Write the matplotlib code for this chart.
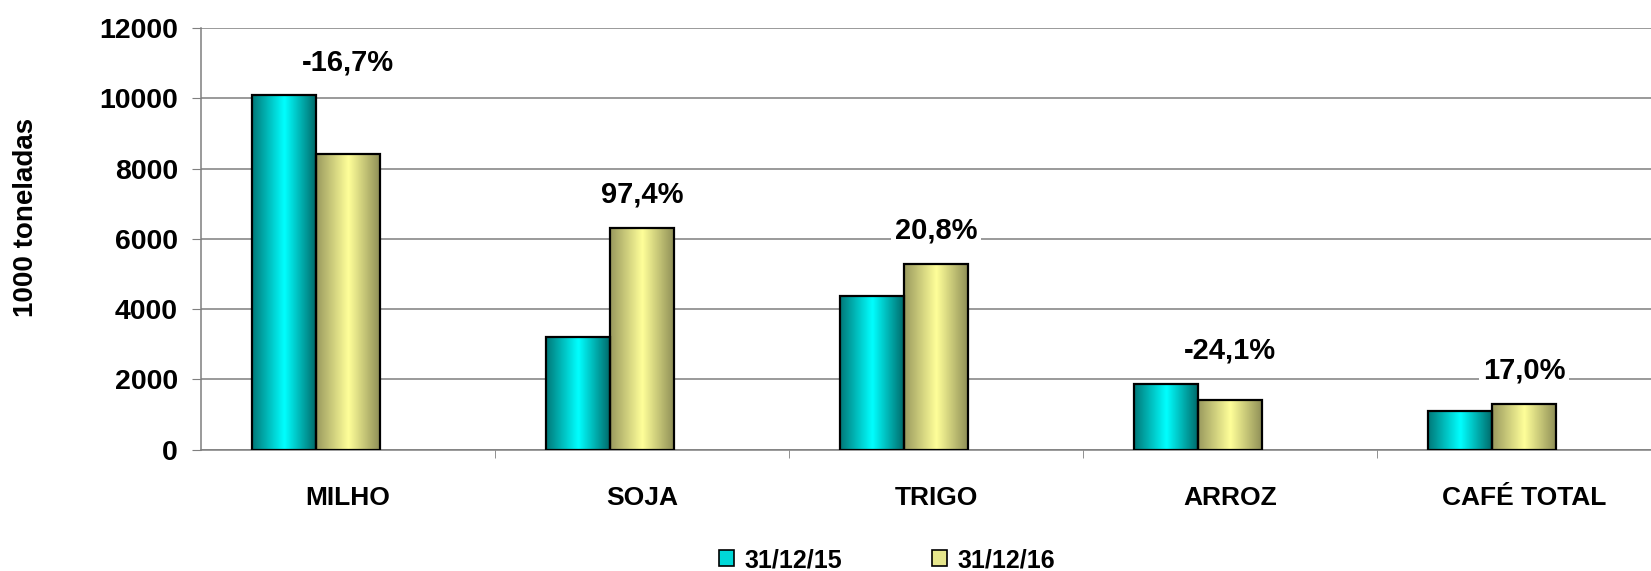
import numpy as np
import matplotlib
matplotlib.use("Agg")
import matplotlib.pyplot as plt
from matplotlib.colors import LinearSegmentedColormap
from matplotlib.patches import Patch

# data (1000 toneladas)
produtos = ["MILHO", "SOJA", "TRIGO", "ARROZ", "CAFÉ TOTAL"]
estoque_2015 = [10080, 3200, 4370, 1870, 1100]
estoque_2016 = [8400, 6310, 5280, 1420, 1290]
variacao = ["-16,7%", "97,4%", "20,8%", "-24,1%", "17,0%"]
series_labels = ["31/12/15", "31/12/16"]

plt.rcParams['font.family'] = ['Liberation Sans', 'DejaVu Sans']
plt.rcParams['font.weight'] = 'bold'

cyan_cmap = LinearSegmentedColormap.from_list(
    "cy", [(0, "#007878"), (0.5, "#00FFFF"), (1, "#006666")])
khaki_cmap = LinearSegmentedColormap.from_list(
    "kh", [(0, "#99995E"), (0.5, "#FFFF99"), (1, "#8C8C55")])

fig = plt.figure(figsize=(16.51, 5.71), dpi=100)
ax = fig.add_axes([201 / 1651, 1 - 449.6 / 571, 1470 / 1651, 421.6 / 571])

x = np.arange(len(produtos))
w = 0.218

bars1 = ax.bar(x - w, estoque_2015, width=w, facecolor='none',
               edgecolor='black', linewidth=1.6, zorder=4)
bars2 = ax.bar(x, estoque_2016, width=w, facecolor='none',
               edgecolor='black', linewidth=1.6, zorder=4)

grad = np.linspace(0, 1, 256).reshape(1, -1)
for bars, cmap in [(bars1, cyan_cmap), (bars2, khaki_cmap)]:
    for r in bars:
        x0, y0 = r.get_x(), r.get_y()
        ax.imshow(grad, extent=[x0, x0 + r.get_width(), y0, y0 + r.get_height()],
                  cmap=cmap, aspect='auto', zorder=3, interpolation='bicubic')

ax.set_xlim(-0.5, len(produtos) - 0.5)
ax.set_ylim(0, 12000)

# gridlines
ax.set_yticks(np.arange(0, 12001, 2000))
ax.yaxis.grid(True, color='#7f7f7f', linewidth=1.1, zorder=0)
ax.set_axisbelow(True)
for s in ['top', 'right']:
    ax.spines[s].set_visible(False)
ax.spines['left'].set_color('#7f7f7f')
ax.spines['bottom'].set_color('#7f7f7f')
ax.spines['left'].set_linewidth(1.1)
ax.spines['bottom'].set_linewidth(1.1)
ax.tick_params(axis='y', length=6.5, color='#7f7f7f', pad=10, labelsize=20.5)

ax.set_xticks(x)
ax.set_xticklabels(produtos)
ax.set_xticks(x[:-1] + 0.5, minor=True)
ax.tick_params(axis='x', which='major', length=0, pad=26, labelsize=19)
ax.tick_params(axis='x', which='minor', length=6, color='#7f7f7f')

# percent change labels
for xi, a, b, txt in zip(x, estoque_2015, estoque_2016, variacao):
    ax.annotate(txt, (xi, max(a, b)), xytext=(0, 24), textcoords='offset points',
                ha='center', va='center', fontsize=21, fontweight='bold',
                bbox=dict(boxstyle='square,pad=0.12', fc='white', ec='none'),
                zorder=5)

fig.text(26 / 1651, 1 - 217 / 571, "1000 toneladas", rotation=90,
         ha='center', va='center', fontsize=20, fontweight='bold')

handles = [Patch(facecolor='#00D8D8', edgecolor='black', linewidth=1.2),
           Patch(facecolor='#E6E68C', edgecolor='black', linewidth=1.2)]
fig.legend(handles, series_labels, loc='center', bbox_to_anchor=(887 / 1651, 1 - 560 / 571),
           ncol=2, frameon=False, fontsize=18, handlelength=0.6, handleheight=0.6,
           handletextpad=0.4, columnspacing=3.6, borderpad=0)

fig.savefig("out.png", dpi=100)
